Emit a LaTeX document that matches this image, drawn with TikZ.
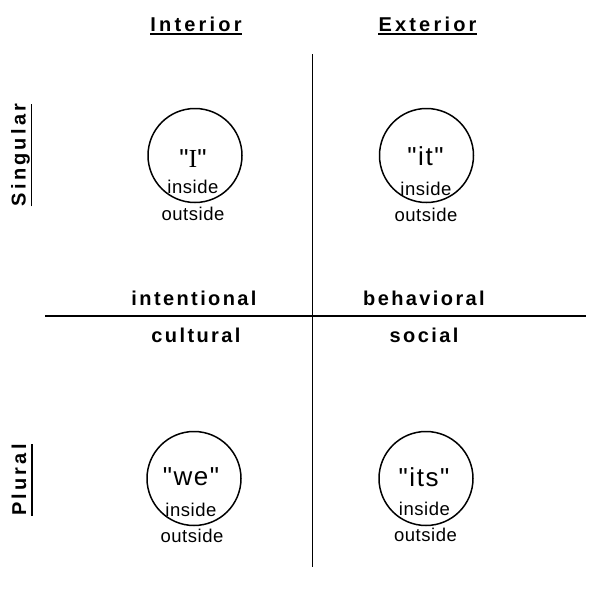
\documentclass[tikz,border=0pt]{standalone}
\usepackage{fontspec}
\setmainfont{Liberation Sans}[Ligatures=TeXOff]
\newfontfamily\serifI{Liberation Serif}[Ligatures=TeXOff]
\begin{document}
\begin{tikzpicture}[x=1pt,y=1pt,
  hdr/.style={font=\fontsize{20}{24}\selectfont\bfseries\addfontfeature{LetterSpace=16}, inner sep=0pt, anchor=base},
  side/.style={font=\fontsize{20}{24}\selectfont\bfseries\addfontfeature{LetterSpace=16}, inner sep=0pt, anchor=base, rotate=90},
  lbl/.style={font=\fontsize{20}{24}\selectfont\bfseries\addfontfeature{LetterSpace=12}, inner sep=0pt, anchor=base},
  pron/.style={font=\fontsize{26}{30}\selectfont\addfontfeature{LetterSpace=6}, inner sep=0pt, anchor=base},
  io/.style={font=\fontsize{18.5}{22}\selectfont\addfontfeature{LetterSpace=3}, inner sep=0pt, anchor=base},
  ring/.style={circle, draw=black, line width=1.5pt, minimum size=94pt, inner sep=0pt},
  axis/.style={draw=black, line width=1.8pt},
  uline/.style={draw=black, line width=1.7pt}]
\useasboundingbox (0,0) rectangle (600,-600);
% axes
\coordinate (vtop) at (312.5,-54);
\coordinate (vbot) at (312.5,-567);
\coordinate (hl) at (45,-316);
\coordinate (hr) at (586,-316);
\draw[axis] (vtop) -- (vbot);
\draw[axis] (hl) -- (hr);
% headers
\node[hdr] (int) at (196,-31.5) {Interior};
\node[hdr] (ext) at (427.5,-31.5) {Exterior};
\draw[uline] ([yshift=-2.5pt]int.base west) -- ([yshift=-2.5pt]int.base east);
\draw[uline] ([yshift=-2.5pt]ext.base west) -- ([yshift=-2.5pt]ext.base east);
\node[side] (sing) at (25.5,-155) {Singular};
\node[side] (plur) at (26,-480) {Plural};
\draw[uline] ([xshift=6pt]sing.base west) -- ([xshift=6pt]sing.base east);
\draw[uline] ([xshift=6pt]plur.base west) -- ([xshift=6pt]plur.base east);
% quadrant labels
\node[lbl] (intl) at (194,-305) {intentional};
\node[lbl] (beh) at (424,-305) {behavioral};
\node[lbl] (cult) at (196,-342) {cultural};
\node[lbl] (soc) at (424,-342) {social};
% circles
\node[ring] (c1) at (195,-155.5) {};
\node[ring] (c2) at (426.5,-155.5) {};
\node[ring] (c3) at (194,-478.5) {};
\node[ring] (c4) at (426,-478.5) {};
% texts
\node[pron] (t1) at (193,-167) {"{\serifI I}"};
\node[io] (i1) at (193,-193.5) {inside};
\node[io] (o1) at (193,-220) {outside};
\node[pron] (t2) at (425.5,-165.5) {"it"};
\node[io] (i2) at (426,-195) {inside};
\node[io] (o2) at (426,-221) {outside};
\node[pron] (t3) at (191,-485) {"we"};
\node[io] (i3) at (191,-516.5) {inside};
\node[io] (o3) at (192,-542.5) {outside};
\node[pron] (t4) at (424,-486) {"its"};
\node[io] (i4) at (424.5,-515) {inside};
\node[io] (o4) at (425.5,-541.5) {outside};
\end{tikzpicture}
\end{document}
